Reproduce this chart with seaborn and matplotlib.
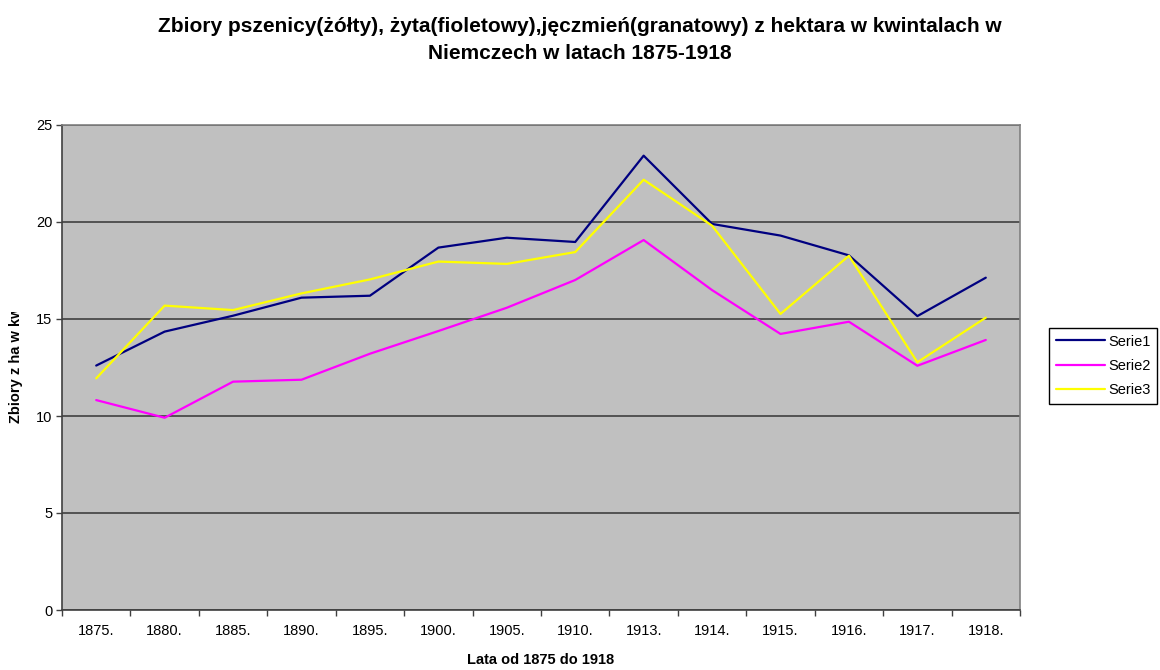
import matplotlib
matplotlib.use("Agg")
import matplotlib.pyplot as plt
import pandas as pd
import seaborn as sns
from matplotlib.transforms import Bbox

# dane
lata = ["1875.", "1880.", "1885.", "1890.", "1895.", "1900.", "1905.",
        "1910.", "1913.", "1914.", "1915.", "1916.", "1917.", "1918."]
serie1 = [12.6, 14.35, 15.17, 16.1, 16.2, 18.68, 19.19,
          18.97, 23.42, 19.9, 19.3, 18.28, 15.15, 17.13]
serie2 = [10.82, 9.91, 11.77, 11.87, 13.21, 14.38, 15.58,
          17.01, 19.07, 16.49, 14.23, 14.86, 12.59, 13.92]
serie3 = [11.94, 15.69, 15.46, 16.32, 17.04, 17.96, 17.84,
          18.45, 22.18, 19.81, 15.26, 18.26, 12.77, 15.07]
nazwy = ["Serie1", "Serie2", "Serie3"]
kolory = {"Serie1": "#000080", "Serie2": "#FF00FF", "Serie3": "#FFFF00"}

idx = list(range(len(lata)))
df = pd.DataFrame({
    "poz": idx * 3,
    "wartosc": serie1 + serie2 + serie3,
    "seria": [n for n in nazwy for _ in lata],
})

sns.set_theme(style="white")
plt.rcParams["font.family"] = ["Liberation Sans", "DejaVu Sans"]
plt.rcParams["text.color"] = "black"
plt.rcParams["xtick.labelcolor"] = "black"
plt.rcParams["ytick.labelcolor"] = "black"

fig = plt.figure(figsize=(11.6, 6.7), dpi=100)
ax = fig.add_axes([62 / 1160, 60 / 670, (1020 - 62) / 1160, (610 - 125) / 670])
ax.set_facecolor("#C0C0C0")

sns.lineplot(data=df, x="poz", y="wartosc", hue="seria", palette=kolory,
             linewidth=1.6, ax=ax, legend=False, sort=False)

# osie
ax.set_xlim(-0.5, len(lata) - 0.5)
ax.set_ylim(0, 25)
ax.set_yticks([0, 5, 10, 15, 20, 25])
ax.yaxis.grid(True, color="#404040", linewidth=1.2)
ax.set_axisbelow(True)
ax.set_xticks([i - 0.5 for i in range(len(lata) + 1)])
ax.set_xticklabels([])
ax.set_xticks(idx, minor=True)
ax.set_xticklabels(lata, minor=True)
ax.tick_params(axis="x", which="major", direction="out", length=4,
               width=1, color="#404040", bottom=True)
ax.tick_params(axis="x", which="minor", length=0, pad=10, labelsize=10.5,
               labelcolor="black")
ax.tick_params(axis="y", direction="out", length=4, width=1,
               color="#404040", left=True, labelsize=10.5, pad=3,
               labelcolor="black")
for s in ["left", "bottom"]:
    ax.spines[s].set_color("#404040")
    ax.spines[s].set_linewidth(1.2)
for s in ["top", "right"]:
    ax.spines[s].set_color("#808080")
    ax.spines[s].set_linewidth(1.2)
ax.set_xlabel("")
ax.set_ylabel("")

# tytuł
fig.text(0.5, 1 - 32 / 670,
         "Zbiory pszenicy(żółty), żyta(fioletowy),jęczmień(granatowy) z hektara w kwintalach w",
         ha="center", va="baseline", fontsize=15, fontweight="bold")
fig.text(0.5, 1 - 59 / 670, "Niemczech w latach 1875-1918",
         ha="center", va="baseline", fontsize=15, fontweight="bold")

fig.text(541 / 1160, 1 - 660 / 670, "Lata od 1875 do 1918",
         ha="center", va="center", fontsize=10.5, fontweight="bold")

# obcięty opis osi Y
yl = fig.text(16 / 1160, 1 - 423 / 670, "Zbiory z ha w kwintalach",
              rotation=90, ha="center", va="bottom", fontsize=10.5,
              fontweight="bold")
yl.set_clip_box(Bbox.from_extents(0, 670 - 440, 40, 670 - 312))
yl.set_clip_on(True)

# legenda
uchwyty = [plt.Line2D([], [], color=kolory[n], linewidth=1.6) for n in nazwy]
leg = fig.legend(uchwyty, nazwy, loc="upper left",
                 bbox_to_anchor=(1049 / 1160, 1 - 328 / 670),
                 fontsize=10.5, frameon=True, fancybox=False, framealpha=1,
                 edgecolor="black", handlelength=3.4, handletextpad=0.2,
                 labelspacing=0.7, borderpad=0.45, borderaxespad=0)
leg.get_frame().set_linewidth(1)

fig.savefig("out.png", dpi=100, facecolor="white")
